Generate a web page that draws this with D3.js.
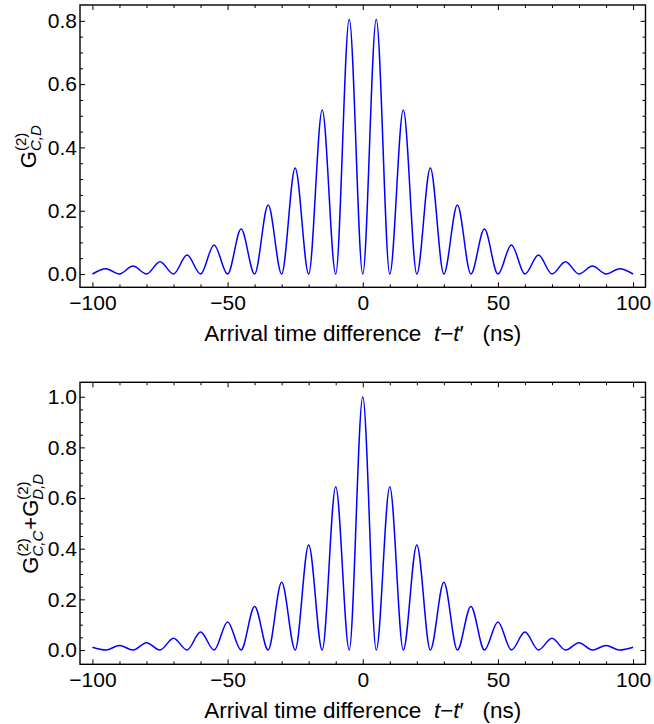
<!DOCTYPE html>
<html>
<head>
<meta charset="utf-8">
<script src="https://cdn.jsdelivr.net/npm/d3@7"></script>
<style>
  body { margin: 0; background: #fff; }
  svg text { font-family: "Liberation Sans", Arial, sans-serif; fill: #000; }
</style>
</head>
<body>
<div id="chart"></div>
<script>
// time axis (ns), shared by both panels: peaks and zeros every 5 ns
var times = [-100,-95,-90,-85,-80,-75,-70,-65,-60,-55,-50,-45,-40,-35,-30,-25,-20,-15,-10,-5,
  0,5,10,15,20,25,30,35,40,45,50,55,60,65,70,75,80,85,90,95,100];

// top panel G(2)_{C,D}
var crossValues = [0,0.017,0,0.025,0,0.039,0,0.060,0,0.092,0,0.142,0,0.218,0,0.335,0,0.518,0,0.805,
  0,0.805,0,0.518,0,0.335,0,0.218,0,0.142,0,0.092,0,0.060,0,0.039,0,0.025,0,0.017,0];

// bottom panel G(2)_{C,C}+G(2)_{D,D}
var autoValues = [0.011,0,0.018,0,0.029,0,0.046,0,0.071,0,0.111,0,0.172,0,0.267,0,0.415,0,0.645,0,
  1.0,0,0.645,0,0.415,0,0.267,0,0.172,0,0.111,0,0.071,0,0.046,0,0.029,0,0.018,0,0.011];

// tick labels
var xTicks = [-100,-50,0,50,100];
var xMinor = [-90,-80,-70,-60,-40,-30,-20,-10,10,20,30,40,60,70,80,90];
var topYTicks = [0,0.2,0.4,0.6,0.8];
var topYMinor = [0.05,0.1,0.15,0.25,0.3,0.35,0.45,0.5,0.55,0.65,0.7,0.75];
var bottomYTicks = [0,0.2,0.4,0.6,0.8,1.0];
var bottomYMinor = [0.05,0.1,0.15,0.25,0.3,0.35,0.45,0.5,0.55,0.65,0.7,0.75,0.85,0.9,0.95];

var W = 654, H = 724;
var svg = d3.select("#chart").append("svg")
  .attr("width", W).attr("height", H);

var x = d3.scaleLinear().domain([-104.6, 104.6]).range([80, 645.5]);

function drawPanel(top, bottom, ydomain, yTicks, yMinor, values, labelParts, labelX) {
  var y = d3.scaleLinear().domain(ydomain).range([bottom, top]);
  var g = svg.append("g");

  // curve
  var line = d3.line()
    .x(function(d, i) { return x(times[i]); })
    .y(function(d) { return y(d); })
    .curve(d3.curveMonotoneX);
  g.append("path")
    .datum(values)
    .attr("d", line)
    .style("fill", "none")
    .style("stroke", "#0000ff")
    .style("stroke-width", 1.5);

  // frame
  g.append("rect")
    .attr("x", x.range()[0]).attr("y", top)
    .attr("width", x.range()[1] - x.range()[0]).attr("height", bottom - top)
    .style("fill", "none").style("stroke", "#000").style("stroke-width", 1.4);

  // ticks, all pointing inwards
  var axes = [
    [d3.axisBottom(x).tickValues(xTicks).tickFormat(d3.format("d")), "translate(0," + bottom + ")", 5, 8],
    [d3.axisBottom(x).tickValues(xMinor).tickFormat(""), "translate(0," + bottom + ")", 3, 0],
    [d3.axisTop(x).tickValues(xTicks).tickFormat(""), "translate(0," + top + ")", 5, 0],
    [d3.axisTop(x).tickValues(xMinor).tickFormat(""), "translate(0," + top + ")", 3, 0],
    [d3.axisLeft(y).tickValues(yTicks).tickFormat(d3.format(".1f")), "translate(" + x.range()[0] + ",0)", 5, 3],
    [d3.axisLeft(y).tickValues(yMinor).tickFormat(""), "translate(" + x.range()[0] + ",0)", 3, 0],
    [d3.axisRight(y).tickValues(yTicks).tickFormat(""), "translate(" + x.range()[1] + ",0)", 5, 0],
    [d3.axisRight(y).tickValues(yMinor).tickFormat(""), "translate(" + x.range()[1] + ",0)", 3, 0]
  ];
  axes.forEach(function(a) {
    var ag = g.append("g")
      .attr("transform", a[1])
      .call(a[0].tickSize(-a[2]).tickPadding(a[3]));
    ag.select(".domain").remove();
    ag.selectAll("line").style("stroke", "#000").style("stroke-width", 1);
    ag.selectAll("text").style("font-size", "21px").style("font-family", "'Liberation Sans', Arial, sans-serif");
  });

  // x axis title
  var t = g.append("text")
    .attr("x", (x.range()[0] + x.range()[1]) / 2)
    .attr("y", bottom + 54)
    .attr("text-anchor", "middle")
    .style("font-size", "22.5px")
    .style("white-space", "pre");
  t.append("tspan").text("Arrival time difference  ");
  t.append("tspan").style("font-style", "italic").text("t");
  t.append("tspan").text("\u2212");
  t.append("tspan").style("font-style", "italic").text("t");
  t.append("tspan").text("\u2032   (ns)");

  // y axis title, rotated; G with stacked (2) and subscript
  var lg = g.append("g")
    .attr("transform", "translate(" + labelX + "," + (top + bottom) / 2 + ") rotate(-90)");
  var inner = lg.append("g");
  var pos = 0;
  labelParts.forEach(function(p) {
    if (p.sub) {
      var sup = inner.append("text").attr("x", pos).attr("y", -10)
        .style("font-size", "15px").text("(2)");
      var sub = inner.append("text").attr("x", pos).attr("y", 5)
        .style("font-size", "15px").style("font-style", "italic").text(p.sub);
      pos += Math.max(sup.node().getComputedTextLength(), sub.node().getComputedTextLength()) + 1;
    } else {
      var tx = inner.append("text").attr("x", pos).attr("y", 0)
        .style("font-size", "22px").text(p.text);
      pos += tx.node().getComputedTextLength();
    }
  });
  inner.attr("transform", "translate(" + (-pos / 2) + ",0)");
}

drawPanel(5, 287.3, [-0.042, 0.85], topYTicks, topYMinor, crossValues,
  [{text: "G"}, {sub: "C,D"}], 36);
drawPanel(382.3, 664.3, [-0.0565, 1.057], bottomYTicks, bottomYMinor, autoValues,
  [{text: "G"}, {sub: "C,C"}, {text: "+"}, {text: "G"}, {sub: "D,D"}], 38);
</script>
</body>
</html>
